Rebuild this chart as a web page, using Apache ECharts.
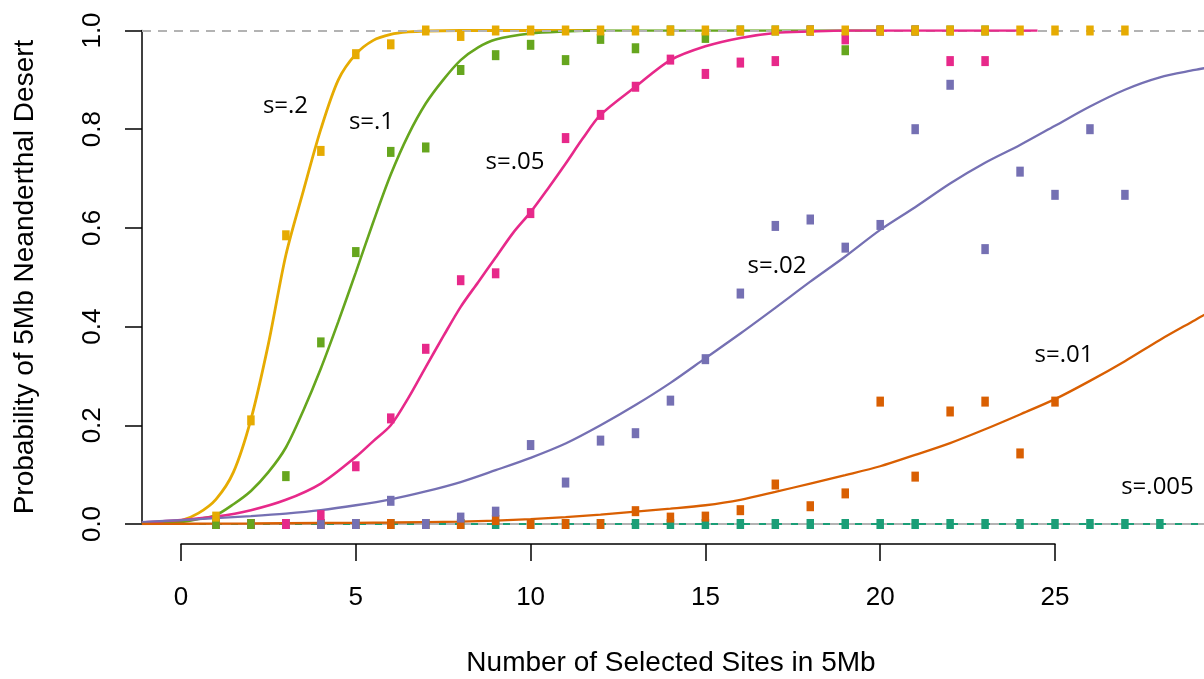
<!DOCTYPE html>
<html>
<head>
<meta charset="utf-8">
<script src="https://cdn.jsdelivr.net/npm/echarts@6.0.0/dist/echarts.min.js"></script>
<style>
html,body{margin:0;padding:0;background:#fff;}
#chart{width:1204px;height:679px;}
</style>
</head>
<body>
<div id="chart"></div>
<script>
// ---------- data ----------
const xTicks = [0, 5, 10, 15, 20, 25];
const yTicks = [0, 0.2, 0.4, 0.6, 0.8, 1.0];

// simulated points (x = number of selected sites)
const pointX = [1,2,3,4,5,6,7,8,9,10,11,12,13,14,15,16,17,18,19,20,21,22,23,24,25,26,27,28];
const goldPts   = [0.015,0.21,0.585,0.756,0.952,0.972,1,0.989,1,1,1,1,1,1,1,1,1,1,1,1,1,1,1,1,1,1,1];
const greenPts  = [0,0,0.097,0.368,0.551,0.754,0.763,0.92,0.95,0.971,0.94,0.983,0.964,1,0.985,1,1,1,0.96,1,1,1,1];
const pinkPts   = [0,0,0,0.018,0.117,0.214,0.355,0.494,0.508,0.63,0.782,0.829,0.886,0.941,0.912,0.935,0.938,1,0.982,1,1,0.938,0.938];
const purplePts = [0,0,0,0,0,0.047,0,0.013,0.025,0.16,0.084,0.169,0.184,0.25,0.334,0.467,0.604,0.617,0.56,0.606,0.8,0.89,0.557,0.714,0.667,0.8,0.667];
const orangePts = [0,0,0,0,0,0,0,0,0.008,0,0,0,0.026,0.013,0.015,0.028,0.08,0.036,0.062,0.248,0.096,0.228,0.248,0.143,0.248];
const tealPts   = [0,0,0,0,0,0,0,0,0,0,0,0,0,0,0,0,0,0,0,0,0,0,0,0,0,0,0,0];

// expected curves
const goldCurveX = [-1.12,-0.5,0,0.5,1,1.5,2,2.5,3,3.5,4,4.5,5,5.5,6,6.5,7,8,10,12];
const goldCurveY = [0.002,0.004,0.007,0.022,0.05,0.105,0.212,0.365,0.545,0.675,0.8,0.9,0.952,0.98,0.992,0.997,0.999,1,1,1];
const greenCurveX = [-1.12,0,0.5,1,1.5,2,2.5,3,3.5,4,4.5,5,5.5,6,6.5,7,7.5,8,8.5,9,10,11,12,20];
const greenCurveY = [0.001,0.004,0.01,0.018,0.04,0.067,0.105,0.155,0.23,0.315,0.41,0.51,0.612,0.708,0.788,0.852,0.9,0.94,0.966,0.982,0.994,0.998,1,1];
const pinkCurveX = [-1.12,0,1,2,3,4,5,5.5,6,6.5,7,7.5,8,8.5,9,9.5,10,10.5,11,11.5,12,13,14,15,16,17,18,19,24.5];
const pinkCurveY = [0.003,0.008,0.015,0.028,0.049,0.082,0.136,0.168,0.2,0.255,0.318,0.38,0.44,0.49,0.54,0.59,0.632,0.68,0.73,0.782,0.829,0.886,0.94,0.968,0.985,0.995,0.998,1,1];
const purpleCurveX = [-1.12,0,1,2,3,4,5,6,7,8,9,10,11,12,13,14,15,16,17,18,19,20,21,22,23,24,25,26,27,28,29,29.3];
const purpleCurveY = [0.004,0.008,0.012,0.016,0.021,0.028,0.038,0.05,0.066,0.085,0.109,0.134,0.163,0.2,0.241,0.286,0.336,0.386,0.438,0.491,0.542,0.596,0.642,0.69,0.732,0.768,0.807,0.846,0.88,0.905,0.92,0.924];
const orangeCurveX = [-1.12,0,2,4,6,8,9,10,11,12,13,14,15,16,17,18,19,20,21,22,23,24,25,26,27,28,29,29.3];
const orangeCurveY = [0,0.0005,0.001,0.002,0.003,0.005,0.007,0.01,0.014,0.019,0.025,0.031,0.038,0.049,0.065,0.082,0.099,0.117,0.14,0.164,0.192,0.222,0.253,0.29,0.33,0.373,0.413,0.425];
const tealCurveX = [-1.12,29.3];
const tealCurveY = [0,0];

const seriesNames = ['s=.2','s=.1','s=.05','s=.02','s=.01','s=.005'];
const refLevels = [0, 1];

// ---------- styling ----------
const colors = {
  gold:'#E6AB02', green:'#66A61E', pink:'#E7298A',
  purple:'#7570B3', orange:'#D95F02', teal:'#1B9E77'
};
const zip = (xs, ys) => ys.map((y, i) => [xs[i], y]);

function curve(name, xs, ys, color, width, z) {
  return {
    name: name + ' curve', type: 'line', xAxisIndex: 0, yAxisIndex: 0,
    data: zip(xs, ys), showSymbol: false, smooth: 0.3,
    lineStyle: { color: color, width: width }, z: z, silent: true, animation: false,
    clip: true
  };
}
function points(name, ys, color, z) {
  return {
    name: name, type: 'scatter', xAxisIndex: 0, yAxisIndex: 0,
    data: zip(pointX, ys), symbol: 'rect', symbolSize: [7.5, 10],
    itemStyle: { color: color, opacity: 1 }, z: z, clip: false, animation: false, silent: true
  };
}

const labelFont = '"Open Sans", "Noto Sans", sans-serif';
const axisFont = '"Liberation Sans", Arial, Helvetica, sans-serif';

const chart = echarts.init(document.getElementById('chart'), null, { renderer: 'canvas' });

const option = {
  backgroundColor: '#ffffff',
  animation: false,
  grid: [
    { left: 142, right: 0, top: 30.5, height: 493.5, outerBoundsMode: 'none', containLabel: false },
    { left: 181, width: 874, top: 543, height: 1, outerBoundsMode: 'none', containLabel: false }
  ],
  xAxis: [
    { gridIndex: 0, type: 'value', min: -1.1156, max: 29.262, show: false },
    { gridIndex: 1, type: 'value', min: 0, max: 25, interval: 5,
      axisLine: { show: true, onZero: false, lineStyle: { color: '#000', width: 1.5 } },
      axisTick: { show: true, length: 17, lineStyle: { color: '#000', width: 1.5 } },
      axisLabel: { show: true, margin: 41, fontSize: 26, color: '#000', fontFamily: axisFont,
        formatter: v => xTicks.includes(v) ? String(v) : '' },
      splitLine: { show: false } }
  ],
  yAxis: [
    { gridIndex: 0, type: 'value', min: 0, max: 1, interval: 0.2,
      axisLine: { show: true, onZero: false, lineStyle: { color: '#000', width: 1.5 } },
      axisTick: { show: true, length: 17, lineStyle: { color: '#000', width: 1.5 } },
      axisLabel: { show: true, rotate: 90, margin: 36, fontSize: 26, color: '#000', fontFamily: axisFont,
        formatter: v => yTicks.some(t => Math.abs(t - v) < 1e-9) ? v.toFixed(1) : '' },
      splitLine: { show: false } },
    { gridIndex: 1, type: 'value', show: false, min: 0, max: 1 }
  ],
  series: [
    curve('s=.005', tealCurveX, tealCurveY, colors.teal, 2.2, 2),
    curve('s=.2', goldCurveX, goldCurveY, colors.gold, 2.8, 3),
    curve('s=.1', greenCurveX, greenCurveY, colors.green, 2.6, 4),
    curve('s=.05', pinkCurveX, pinkCurveY, colors.pink, 2.6, 5),
    curve('s=.02', purpleCurveX, purpleCurveY, colors.purple, 2.3, 6),
    curve('s=.01', orangeCurveX, orangeCurveY, colors.orange, 2.3, 7),

    points('s=.005', tealPts, colors.teal, 11),
    points('s=.01', orangePts, colors.orange, 12),
    points('s=.02', purplePts, colors.purple, 13),
    points('s=.05', pinkPts, colors.pink, 14),
    points('s=.1', greenPts, colors.green, 15),
    points('s=.2', goldPts, colors.gold, 16),

    { name: 'reference', type: 'line', xAxisIndex: 0, yAxisIndex: 0, data: [], z: 20, silent: true,
      markLine: { silent: true, symbol: ['none', 'none'], animation: false,
        label: { show: false },
        lineStyle: { color: '#b3b3b3', type: [9, 7], width: 2 },
        data: refLevels.map(v => ({ yAxis: v })) } }
  ],
  graphic: [
    { type: 'text', x: 25, y: 277, rotation: Math.PI / 2,
      style: { text: 'Probability of 5Mb Neanderthal Desert', font: '28px ' + axisFont, fill: '#000',
        textAlign: 'center', textVerticalAlign: 'middle' } },
    { type: 'text', x: 671, y: 663,
      style: { text: 'Number of Selected Sites in 5Mb', font: '28px ' + axisFont, fill: '#000',
        textAlign: 'center', textVerticalAlign: 'middle' } },
    { type: 'text', x: 285.5, y: 106, style: { text: seriesNames[0], font: '24px ' + labelFont, fill: '#000', textAlign: 'center', textVerticalAlign: 'middle' } },
    { type: 'text', x: 371.5, y: 122, style: { text: seriesNames[1], font: '24px ' + labelFont, fill: '#000', textAlign: 'center', textVerticalAlign: 'middle' } },
    { type: 'text', x: 515, y: 162, style: { text: seriesNames[2], font: '24px ' + labelFont, fill: '#000', textAlign: 'center', textVerticalAlign: 'middle' } },
    { type: 'text', x: 777, y: 266, style: { text: seriesNames[3], font: '24px ' + labelFont, fill: '#000', textAlign: 'center', textVerticalAlign: 'middle' } },
    { type: 'text', x: 1064, y: 355, style: { text: seriesNames[4], font: '24px ' + labelFont, fill: '#000', textAlign: 'center', textVerticalAlign: 'middle' } },
    { type: 'text', x: 1157.5, y: 487, style: { text: seriesNames[5], font: '24px ' + labelFont, fill: '#000', textAlign: 'center', textVerticalAlign: 'middle' } }
  ]
};
chart.setOption(option);
</script>
</body>
</html>
